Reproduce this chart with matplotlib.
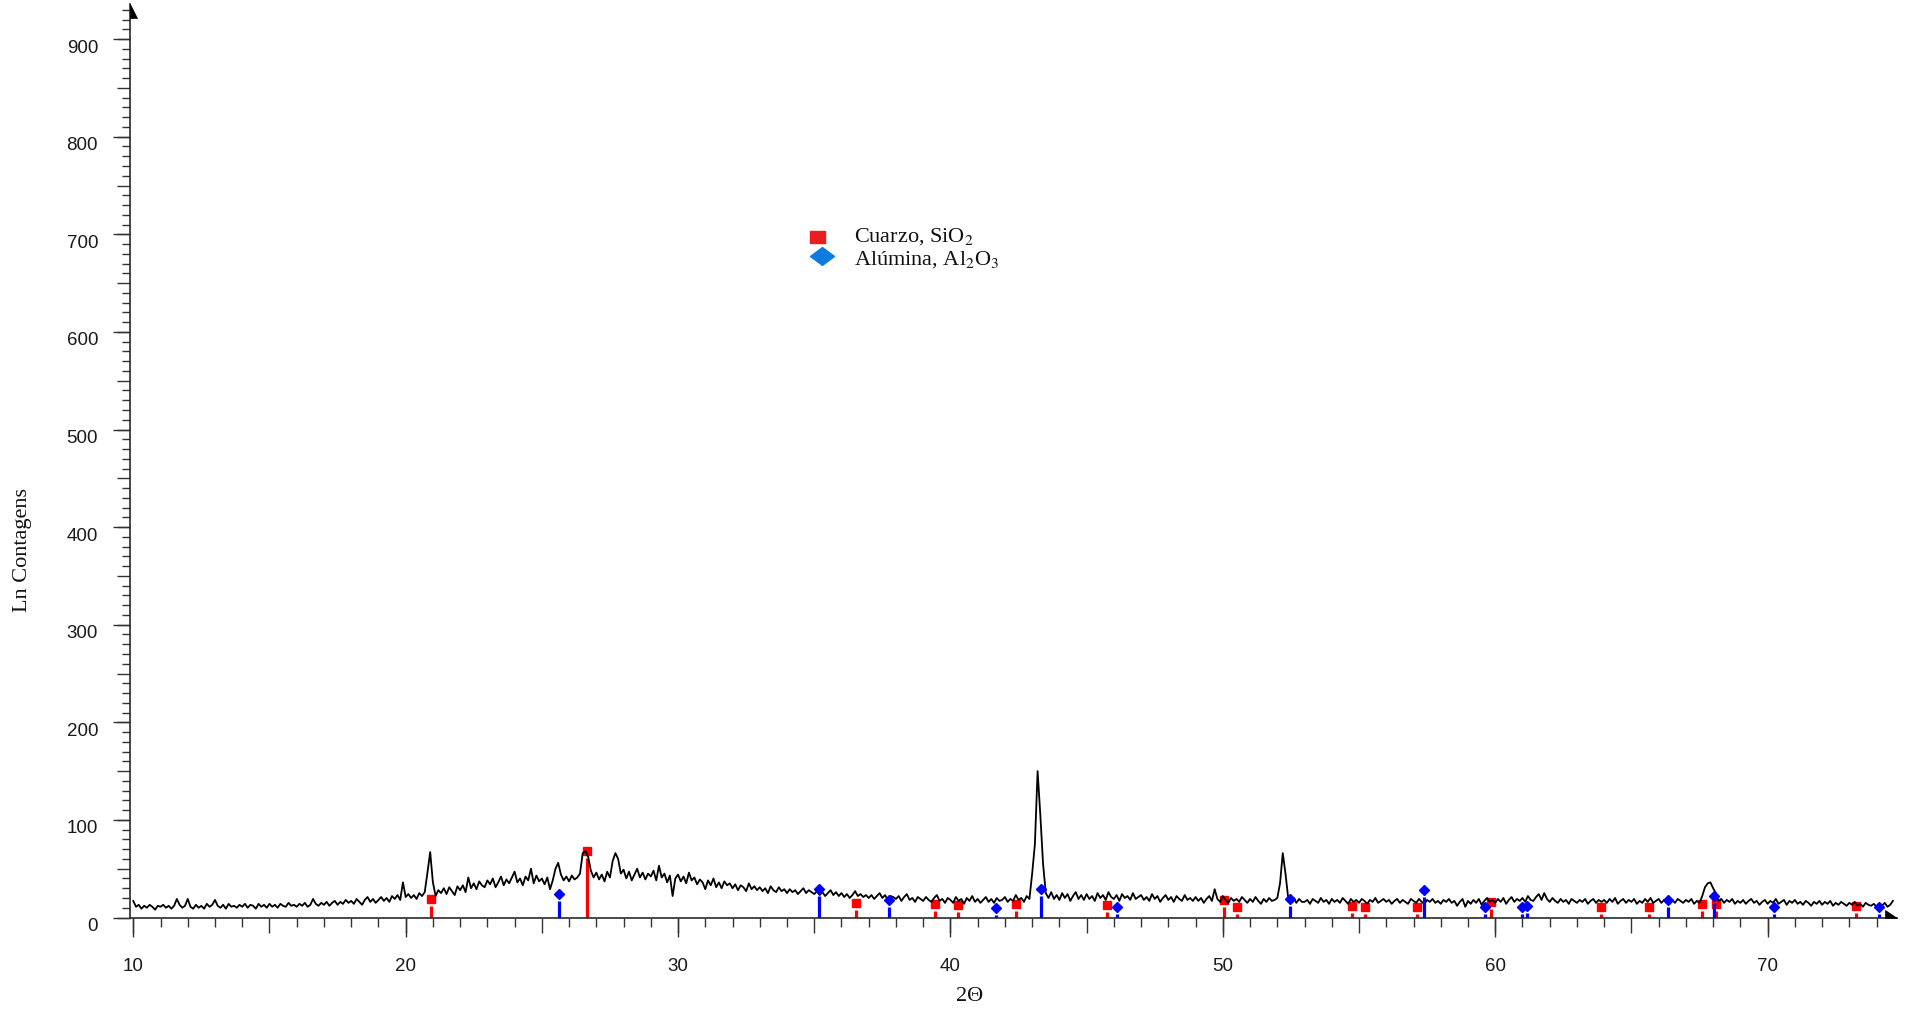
import numpy as np
import matplotlib
matplotlib.use("Agg")
import matplotlib.pyplot as plt
from matplotlib.ticker import MultipleLocator, FixedLocator
from matplotlib.transforms import ScaledTranslation, IdentityTransform
from matplotlib.patches import Polygon

# ---------------- data ----------------
scan_start = 10.0   # 2-theta of first point
scan_step = 0.1     # 2-theta step of the scan
counts = [
    17, 11, 13, 9, 12, 10, 13, 11, 8, 12,      # 10
    11, 13, 10, 12, 9, 12, 19, 13, 10, 12,     # 11
    19, 11, 9, 13, 10, 12, 9, 14, 11, 13,      # 12
    18, 12, 10, 13, 9, 14, 11, 12, 10, 13,     # 13
    11, 14, 10, 13, 12, 9, 14, 11, 13, 10,     # 14
    14, 11, 13, 10, 14, 12, 11, 15, 12, 13,    # 15
    11, 14, 12, 15, 11, 13, 19, 14, 12, 15,    # 16
    13, 16, 12, 15, 17, 13, 16, 14, 18, 15,    # 17
    17, 14, 19, 16, 13, 18, 21, 16, 19, 15,    # 18
    18, 21, 17, 20, 16, 22, 19, 23, 18, 36,    # 19
    21, 24, 20, 23, 19, 25, 22, 26, 46, 67,    # 20
    36, 22, 28, 25, 30, 24, 31, 27, 23, 32,    # 21
    28, 33, 26, 41, 30, 35, 29, 37, 33, 31,    # 22
    38, 34, 40, 31, 36, 42, 33, 39, 35, 41,    # 23
    47, 36, 40, 33, 42, 38, 50, 35, 43, 37,    # 24
    40, 34, 41, 29, 38, 50, 56, 44, 38, 42,    # 25
    37, 43, 39, 41, 45, 66, 68, 62, 48, 41,    # 26
    46, 39, 44, 37, 47, 41, 58, 66, 60, 45,    # 27
    49, 40, 47, 38, 44, 50, 41, 46, 39, 45,    # 28
    42, 48, 38, 53, 41, 45, 36, 43, 22, 40,    # 29
    44, 37, 42, 35, 46, 38, 41, 34, 39, 36,    # 30
    29, 38, 33, 40, 31, 36, 30, 37, 33, 35,    # 31
    30, 34, 28, 33, 31, 27, 35, 29, 32, 28,    # 32
    31, 27, 30, 25, 32, 28, 26, 31, 27, 29,    # 33
    25, 29, 26, 28, 24, 27, 30, 25, 28, 26,    # 34
    24, 27, 23, 26, 22, 25, 28, 23, 26, 22,    # 35
    25, 21, 24, 20, 23, 27, 22, 24, 21, 23,    # 36
    20, 23, 19, 22, 25, 20, 23, 18, 22, 21,    # 37
    19, 22, 17, 21, 24, 18, 20, 16, 21, 19,    # 38
    17, 21, 18, 16, 20, 23, 17, 19, 15, 20,    # 39
    18, 15, 21, 17, 19, 14, 20, 17, 22, 16,    # 40
    19, 15, 18, 21, 16, 19, 15, 20, 17, 18,    # 41
    21, 16, 19, 17, 23, 18, 20, 16, 22, 19,    # 42
    45, 75, 150, 105, 55, 25, 20, 26, 19, 23,  # 43
    18, 25, 20, 24, 17, 22, 26, 19, 23, 18,    # 44
    24, 19, 22, 17, 25, 20, 23, 18, 26, 21,    # 45
    19, 23, 17, 24, 20, 22, 18, 25, 19, 21,    # 46
    23, 18, 21, 17, 24, 19, 22, 16, 20, 23,    # 47
    18, 21, 16, 22, 19, 17, 23, 18, 20, 17,    # 48
    21, 17, 20, 15, 19, 22, 17, 29, 19, 16,    # 49
    22, 18, 15, 20, 17, 19, 16, 21, 18, 15,    # 50
    19, 16, 21, 17, 14, 19, 16, 20, 17, 18,    # 51
    20, 35, 66, 45, 20, 17, 20, 15, 19, 16,    # 52
    16, 18, 14, 19, 17, 15, 20, 16, 18, 14,    # 53
    19, 16, 18, 15, 20, 17, 14, 19, 16, 18,    # 54
    15, 19, 17, 14, 18, 16, 20, 15, 17, 19,    # 55
    16, 18, 14, 17, 19, 15, 18, 16, 14, 19,    # 56
    17, 15, 19, 16, 14, 18, 16, 19, 15, 17,    # 57
    14, 18, 16, 19, 15, 17, 12, 16, 19, 11,    # 58
    17, 14, 18, 15, 19, 13, 17, 20, 16, 18,    # 59
    15, 19, 16, 20, 14, 18, 21, 16, 19, 17,    # 60
    20, 16, 22, 18, 17, 21, 24, 18, 25, 19,    # 61
    16, 20, 17, 15, 19, 16, 18, 14, 19, 17,    # 62
    15, 18, 16, 19, 14, 17, 19, 15, 18, 16,    # 63
    18, 15, 19, 16, 20, 14, 17, 19, 15, 18,    # 64
    16, 19, 14, 17, 15, 19, 16, 20, 15, 17,    # 65
    19, 15, 18, 16, 14, 18, 15, 19, 17, 15,    # 66
    18, 16, 19, 14, 17, 15, 22, 31, 35, 36,    # 67
    30, 25, 17, 19, 15, 18, 16, 19, 14, 17,    # 68
    15, 18, 14, 17, 19, 15, 17, 13, 16, 18,    # 69
    14, 17, 15, 19, 14, 16, 18, 13, 17, 15,    # 70
    18, 14, 16, 13, 17, 15, 12, 16, 14, 17,    # 71
    13, 16, 14, 17, 12, 15, 13, 16, 14, 12,    # 72
    15, 13, 16, 12, 14, 11, 15, 13, 12, 14,    # 73
    11, 14, 12, 15, 11, 13, 17,                # 74
]

quartz_pos = [20.93, 26.67, 36.54, 39.43, 40.29, 42.42, 45.76, 50.05, 50.52,
              54.75, 55.21, 57.13, 59.84, 63.88, 65.63, 67.58, 68.12, 73.24]
quartz_int = [19, 68, 15, 14, 13, 14, 13, 18, 10.5,
              12, 10.5, 10.5, 15.5, 11, 10.5, 14, 14, 11.5]
alumina_pos = [25.63, 35.17, 37.74, 41.67, 43.32, 46.12, 52.46, 57.39,
               59.62, 60.99, 61.18, 66.35, 68.02, 70.24, 74.09]
alumina_int = [24, 29, 18, 10, 29, 10.5, 19, 28.5,
               10.5, 10.5, 12, 18, 22, 10.5, 10.5]

x_tick_labels = [10, 20, 30, 40, 50, 60, 70]
y_tick_labels = [0, 100, 200, 300, 400, 500, 600, 700, 800, 900]
legend_labels = ["Cuarzo, SiO$_2$", "Alúmina, Al$_2$O$_3$"]
x_label = "2\u0398"
y_label = "Ln Contagens"

# ---------------- style ----------------
plt.rcParams["font.family"] = ["Liberation Sans Narrow", "Liberation Sans", "DejaVu Sans"]
plt.rcParams["mathtext.fontset"] = "stix"

W, H, DPI = 1913, 1012, 100
fig = plt.figure(figsize=(W / DPI, H / DPI), dpi=DPI)
ax_left, ax_right, ax_top, ax_bottom = 130, 1897, 5, 918.5
ax = fig.add_axes([ax_left / W, (H - ax_bottom) / H,
                   (ax_right - ax_left) / W, (ax_bottom - ax_top) / H])
ax.set_xlim(9.88, 74.75)
ax.set_ylim(0, 936)

two_theta = scan_start + scan_step * np.arange(len(counts))

red = "#ff0000"
blue = "#0000ff"
gap = 7.0
q_int = np.array(quartz_int)
a_int = np.array(alumina_int)
ax.vlines(quartz_pos, 0, q_int - gap, colors=red, lw=2.3, zorder=2)
ax.plot(quartz_pos, quartz_int, "s", ms=6.0, color=red, mec=red, zorder=2, ls="none")
ax.plot(two_theta, counts, color="black", lw=1.3, zorder=3)
ax.vlines(alumina_pos, 0, a_int - gap, colors=blue, lw=2.3, zorder=4)
ax.plot(alumina_pos, alumina_int, "D", ms=4.6, color=blue, mec=blue, zorder=4, ls="none")

# spines
for s in ["top", "right"]:
    ax.spines[s].set_visible(False)
for s in ["left", "bottom"]:
    ax.spines[s].set_color("#2a2a2a")
    ax.spines[s].set_linewidth(1.2)

tick_col = "#333333"
px = 0.72  # points per pixel

# x ticks: 1 (short), 5 (medium), 10 (long + label)
ax.xaxis.set_major_locator(MultipleLocator(5))
ax.xaxis.set_minor_locator(MultipleLocator(1))
ax.tick_params(axis="x", which="major", length=15 * px, width=1.0, color=tick_col,
               labelbottom=False)
ax.tick_params(axis="x", which="minor", length=9 * px, width=1.0, color=tick_col)
secx = ax.secondary_xaxis("bottom")
secx.xaxis.set_major_locator(FixedLocator(x_tick_labels))
secx.tick_params(axis="x", length=19 * px, width=1.0, color=tick_col, pad=21 * px,
                 labelsize=13.5, labelcolor="#1a1a1a")
secx.spines["bottom"].set_visible(False)

# y ticks: 10 (short), 50 (medium), 100 (long + label)
ax.yaxis.set_major_locator(MultipleLocator(50))
ax.yaxis.set_minor_locator(MultipleLocator(10))
ax.tick_params(axis="y", which="major", length=13.3 * px, width=1.0, color=tick_col,
               labelleft=False)
ax.tick_params(axis="y", which="minor", length=8.3 * px, width=1.0, color=tick_col)
secy = ax.secondary_yaxis("left")
secy.yaxis.set_major_locator(FixedLocator(y_tick_labels))
secy.tick_params(axis="y", length=17 * px, width=1.0, color=tick_col, pad=15 * px,
                 labelsize=13.5, labelcolor="#1a1a1a")
secy.spines["left"].set_visible(False)

# axis titles
axw = ax_right - ax_left
axh = ax_bottom - ax_top
ax.text((22.5 - ax_left) / axw, (ax_bottom - 550) / axh, y_label, transform=ax.transAxes,
        rotation=90, ha="center", va="center", family="Liberation Serif", fontsize=16,
        color="#111111")
ax.text((970 - ax_left) / axw, (ax_bottom - 997) / axh, x_label, transform=ax.transAxes,
        ha="center", va="center", family="Liberation Serif", fontsize=16, color="#111111")

# legend (manual, as in the reference)
sq_marker = [(-1.25, -1), (1.25, -1), (1.25, 1), (-1.25, 1), (-1.25, -1)]
dm_marker = [(-1.35, 0), (0, 1), (1.35, 0), (0, -1), (-1.35, 0)]
ax.plot([(816.8 - ax_left) / axw], [(ax_bottom - 237.5) / axh], marker=sq_marker,
        ms=10.8, color="#ec1c24", mec="#ec1c24", transform=ax.transAxes, clip_on=False,
        ls="none")
ax.plot([(822 - ax_left) / axw], [(ax_bottom - 257.2) / axh], marker=dm_marker,
        ms=17.3, color="#0f7ae0", mec="#0f7ae0", transform=ax.transAxes, clip_on=False,
        ls="none")
ax.text((854 - ax_left) / axw, (ax_bottom - 241.7) / axh, legend_labels[0],
        transform=ax.transAxes, ha="left", va="baseline", family="Liberation Serif",
        fontsize=16, color="#111111")
ax.text((854 - ax_left) / axw, (ax_bottom - 265) / axh, legend_labels[1],
        transform=ax.transAxes, ha="left", va="baseline", family="Liberation Serif",
        fontsize=16, color="#111111")

# arrow heads at the ends of the axes
fig.canvas.draw()
x0, y1 = ax.transAxes.transform((0, 1))
x1, y0 = ax.transAxes.transform((1, 0))
fig.add_artist(Polygon([(x0, y1), (x0, y1 - 14), (x0 + 6.5, y1 - 14)], closed=True,
                       facecolor="black", edgecolor="black", lw=0.5,
                       transform=IdentityTransform()))
fig.add_artist(Polygon([(x1, y0), (x1 - 12, y0), (x1 - 12, y0 + 8)], closed=True,
                       facecolor="black", edgecolor="black", lw=0.5,
                       transform=IdentityTransform()))

# y tick labels sit slightly below their ticks in the reference
for lab in secy.get_yticklabels():
    lab.set_transform(lab.get_transform() + ScaledTranslation(0, -6 / DPI, fig.dpi_scale_trans))

fig.savefig("out.png", dpi=DPI)
